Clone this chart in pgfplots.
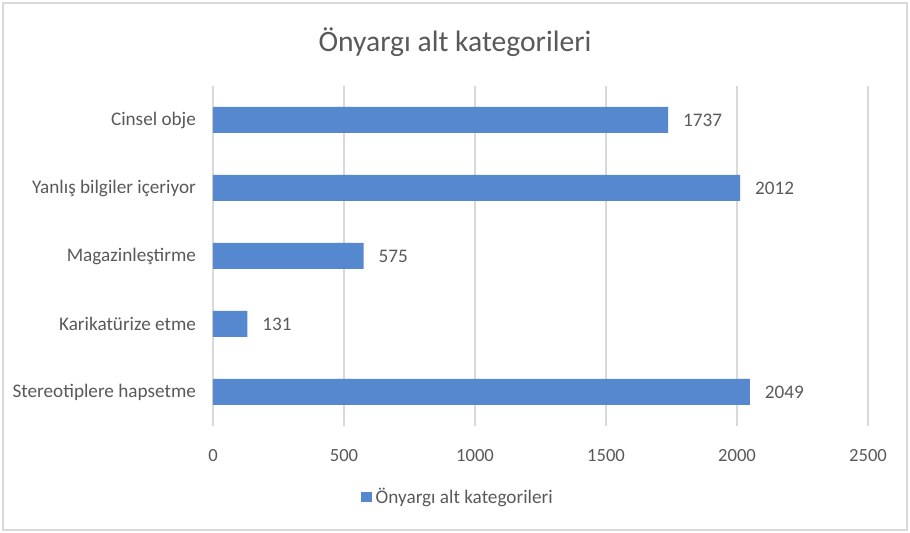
\documentclass[border=0pt]{standalone}
\usepackage{fontspec}
\setmainfont{Carlito}
\usepackage{pgfplots}
\pgfplotsset{compat=1.18}
\definecolor{barblue}{HTML}{5588CF}
\definecolor{txtgray}{HTML}{595959}
\definecolor{gridgray}{HTML}{D9D9D9}
\begin{document}
\begin{tikzpicture}
\useasboundingbox (0,0) rectangle (455pt,266.5pt);
\draw[gridgray, line width=0.8pt] (1.5pt,1.5pt) rectangle (453.5pt,265pt);
\node[text=txtgray, font=\fontsize{14.8}{17}\selectfont] at (227.5pt,245.5pt) {Önyargı alt kategorileri};
\begin{axis}[
  at={(106.5pt,53.5pt)}, anchor=south west,
  scale only axis, width=327.5pt, height=170pt,
  xbar, bar width=13pt,
  xmin=0, xmax=2500, ymin=-0.5, ymax=4.5,
  xtick={0,500,1000,1500,2000,2500},
  ytick={0,1,2,3,4},
  yticklabels={Stereotiplere hapsetme, Karikatürize etme, Magazinleştirme, Yanlış bilgiler içeriyor, Cinsel obje},
  xmajorgrids, grid style={gridgray, line width=0.8pt},
  axis line style={draw=none},
  major tick length=0pt,
  tick label style={text=txtgray, font=\fontsize{9.3}{11}\selectfont},
  yticklabel style={font=\fontsize{9.6}{11}\selectfont, xshift=-5pt},
  /pgf/number format/assume math mode=true,
  /pgf/number format/1000 sep={},
  xticklabel style={yshift=-8pt},
  nodes near coords,
  point meta=x,
  nodes near coords style={anchor=west, xshift=4pt, text=txtgray, font=\fontsize{9.6}{11}\selectfont, /pgf/number format/1000 sep={}, /pgf/number format/assume math mode=true},
  legend style={at={(0.3756,-0.2088)}, anchor=center, draw=none, fill=none, font=\fontsize{9.6}{11}\selectfont, text=txtgray, inner sep=0pt},
  legend image code/.code={\fill[barblue] (0pt,-2.6pt) rectangle (5.2pt,2.6pt);},
]
\addplot[fill=barblue, draw=none] coordinates {(2049,0) (131,1) (575,2) (2012,3) (1737,4)};
\addlegendentry{Önyargı alt kategorileri}
\end{axis}
\end{tikzpicture}
\end{document}
